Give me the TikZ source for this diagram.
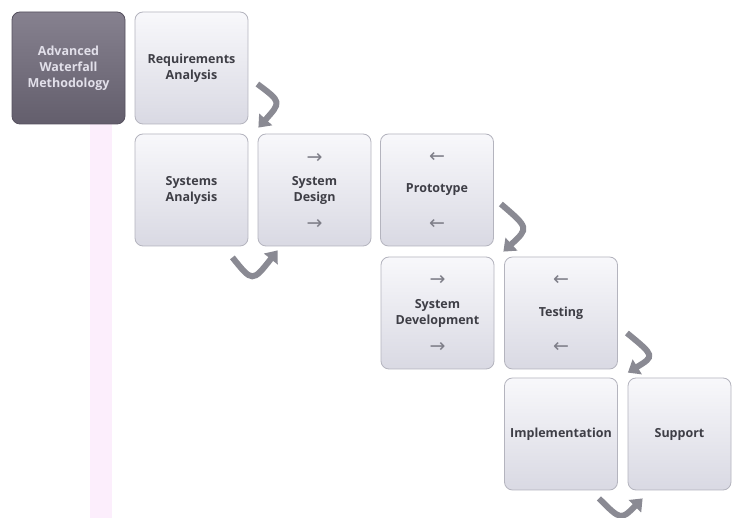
\documentclass[tikz,border=0pt]{standalone}
\usepackage{fontspec}
\setmainfont{Open Sans}
\newfontfamily\glyphfont{DejaVu Sans}
\usetikzlibrary{calc,arrows.meta}

\definecolor{boxedge}{HTML}{B4B4BE}
\definecolor{boxtop}{HTML}{F8F8FB}
\definecolor{boxbot}{HTML}{D9D9E3}
\definecolor{boxtext}{HTML}{3E3E46}
\definecolor{darktop}{HTML}{86818F}
\definecolor{darkbot}{HTML}{635E6C}
\definecolor{darkedge}{HTML}{55505E}
\definecolor{darktext}{HTML}{E2E0EA}
\definecolor{bandpink}{HTML}{FCEEFC}
\definecolor{bendgray}{HTML}{8A8A93}
\definecolor{smallgray}{HTML}{7E7E88}

\begin{document}
\begin{tikzpicture}[x=1pt,y=-1pt,
  stage/.style={draw=boxedge, line width=0.8pt, rounded corners=8pt,
    top color=boxtop, bottom color=boxbot,
    minimum width=113pt, minimum height=112pt, text width=108pt,
    align=center, inner sep=0pt, text=boxtext,
    font=\bfseries\fontsize{12.5}{16}\selectfont},
  titlebox/.style={stage, draw=darkedge, top color=darktop, bottom color=darkbot,
    text=darktext},
  dirmark/.style={text=smallgray, inner sep=0pt,
    font=\glyphfont\fontsize{19}{19}\selectfont},
  bendarrow/.style={draw=bendgray, line width=6pt,
    -{Triangle[width=17pt,length=11pt]}}]

% page and background band
\useasboundingbox (0,0) rectangle (732,518);
\fill[white] (0,0) rectangle (732,518);
\fill[bandpink] (90,124) rectangle (112,518);

% stages of the process
\node[titlebox] (title)   at (68.5,68)  {Advanced\\Waterfall\\Methodology};
\node[stage]    (req)     at (191.5,68) {Requirements\\Analysis};
\node[stage]    (sysan)   at (191.5,190){Systems\\Analysis};
\node[stage]    (sysdes)  at (314.5,190){System\\Design};
\node[stage]    (proto)   at (437,190)  {Prototype};
\node[stage]    (sysdev)  at (437.5,313){System\\Development};
\node[stage]    (test)    at (561,313)  {Testing};
\node[stage]    (impl)    at (561,434)  {Implementation};
\node[stage, minimum width=103pt, text width=98pt] (support) at (679.5,434) {Support};

% direction marks inside the iterative stages
\node[dirmark] (sdup) at ($(sysdes.center)+(0,-32)$) {→};
\node[dirmark] (sddn) at ($(sysdes.center)+(0,34)$)  {→};
\node[dirmark] (prup) at ($(proto.center)+(0,-33)$)  {←};
\node[dirmark] (prdn) at ($(proto.center)+(0,34)$)   {←};
\node[dirmark] (dvup) at ($(sysdev.center)+(0,-33)$) {→};
\node[dirmark] (dvdn) at ($(sysdev.center)+(0,34)$)  {→};
\node[dirmark] (tsup) at ($(test.center)+(0,-33)$)   {←};
\node[dirmark] (tsdn) at ($(test.center)+(0,34)$)    {←};

% bending arrows between stages
\coordinate (r1) at ($(req.east)+(9,16)$);
\coordinate (r2) at ($(sysan.north east)+(10,-6)$);
\draw[bendarrow] (r1) .. controls ($(r1)+(24,18)$) .. (r2);

\coordinate (a1) at ($(sysan.south east)+(-16,11)$);
\coordinate (a2) at ($(sysdes.south west)+(20,4)$);
\draw[bendarrow] (a1) .. controls ($(a1)+(20,25)$) .. (a2);

\coordinate (p1) at ($(proto.east)+(7,14)$);
\coordinate (p2) at ($(sysdev.north east)+(9,-5)$);
\draw[bendarrow] (p1) .. controls ($(p1)+(28,24)$) .. (p2);

\coordinate (t1) at ($(test.east)+(9,20)$);
\coordinate (t2) at ($(impl.north east)+(10,-5)$);
\draw[bendarrow] (t1) .. controls ($(t1)+(28,23)$) .. (t2);

\coordinate (i1) at ($(impl.south east)+(-19,8)$);
\coordinate (i2) at ($(support.south west)+(15,8)$);
\draw[bendarrow] (i1) .. controls ($(i1)+(22,22)$) .. (i2);
\end{tikzpicture}
\end{document}
